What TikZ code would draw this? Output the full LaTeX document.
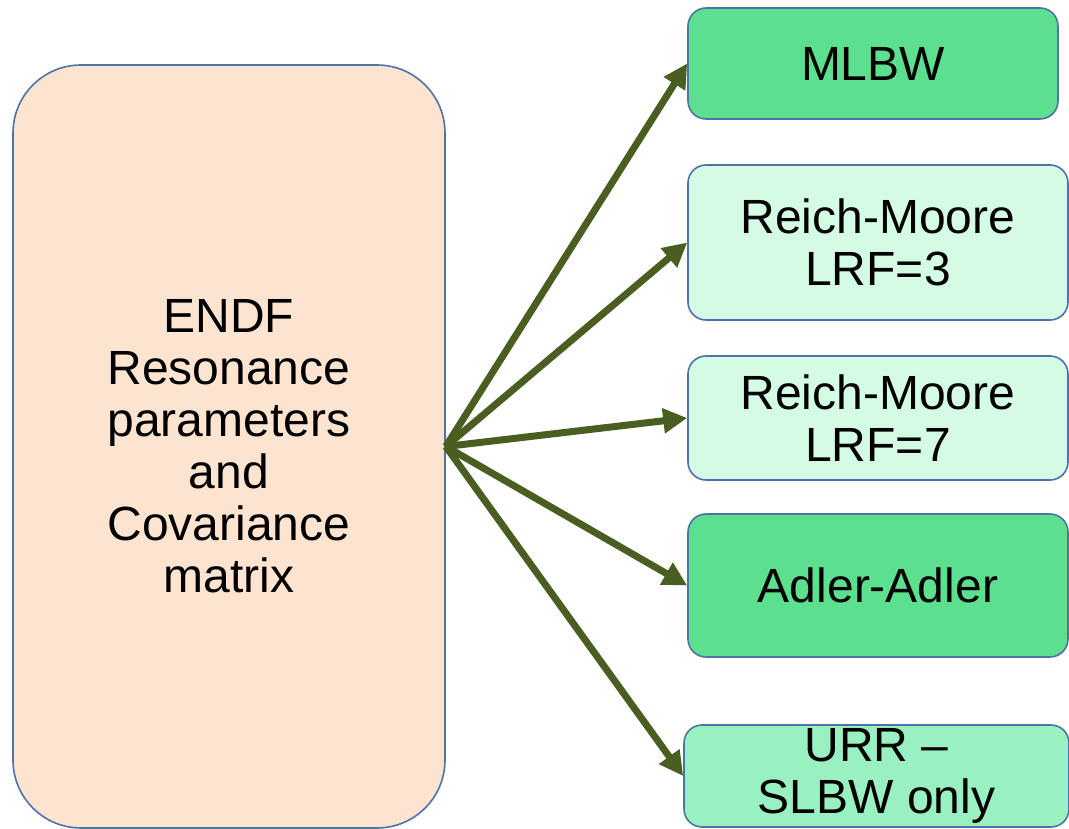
\documentclass[tikz,border=0pt]{standalone}
\usepackage{fontspec}
\setmainfont{Liberation Sans}
\usetikzlibrary{arrows.meta}
\definecolor{peach}{HTML}{FDE4D0}
\definecolor{edgeblue}{HTML}{4F72A8}
\definecolor{midgreen}{HTML}{5CE090}
\definecolor{palegreen}{HTML}{D4FCE4}
\definecolor{softgreen}{HTML}{99F0C0}
\definecolor{olive}{HTML}{4A5E22}
\tikzset{
  box/.style={draw=edgeblue, line width=1.6pt, rounded corners=18pt, align=center,
    inner sep=0pt, font=\fontsize{48}{52}\selectfont},
  link/.style={draw=olive, line width=7pt, -{Triangle[length=24pt,width=24pt]}}
}
\begin{document}
\begin{tikzpicture}[x=1pt,y=-1pt]
\useasboundingbox (0,0) rectangle (1069,829);
\node[box, fill=peach, rounded corners=68pt, minimum width=432pt, minimum height=763pt] (src) at (229,446.5)
  {ENDF\\Resonance\\parameters\\and\\Covariance\\matrix};
\node[box, fill=midgreen, minimum width=370pt, minimum height=111pt] (mlbw) at (873,63.5) {MLBW};
\node[box, fill=palegreen, minimum width=380pt, minimum height=155pt] (rmthree) at (878,242.5)
  {Reich-Moore\\LRF=3};
\node[box, fill=palegreen, minimum width=380pt, minimum height=124pt] (rmseven) at (878,418)
  {Reich-Moore\\LRF=7};
\node[box, fill=midgreen, minimum width=380pt, minimum height=143pt] (adler) at (878,585.5)
  {Adler-Adler};
\node[box, fill=softgreen, minimum width=385pt, minimum height=102pt] (urr) at (876.5,776)
  {URR --\\SLBW only};
\draw[link] (src.east) -- (mlbw.west);
\draw[link] (src.east) -- (rmthree.west);
\draw[link] (src.east) -- (rmseven.west);
\draw[link] (src.east) -- (adler.west);
\draw[link] (src.east) -- (urr.west);
\end{tikzpicture}
\end{document}
